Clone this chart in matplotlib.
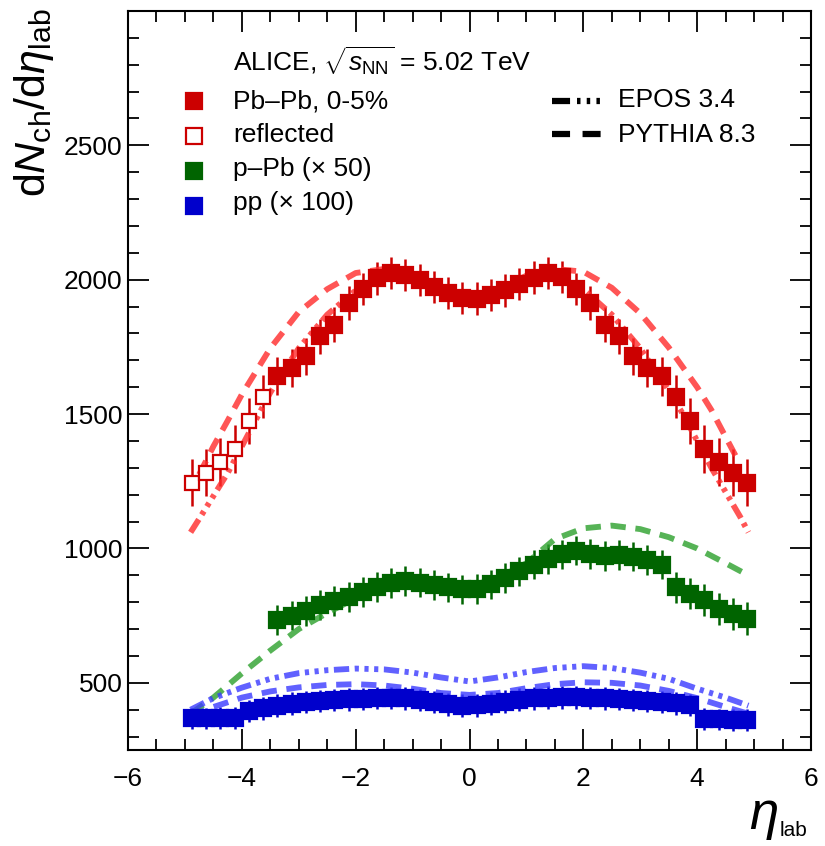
import numpy as np
import matplotlib.pyplot as plt
from matplotlib.lines import Line2D
from matplotlib.ticker import MultipleLocator

plt.rcParams['font.family'] = ['Liberation Sans', 'DejaVu Sans']
plt.rcParams['mathtext.fontset'] = 'custom'
plt.rcParams['mathtext.rm'] = 'Liberation Sans'
plt.rcParams['mathtext.it'] = 'Liberation Sans:italic'
plt.rcParams['mathtext.bf'] = 'Liberation Sans:bold'
plt.rcParams['lines.scale_dashes'] = False

# ---- data ----
# Pb-Pb 0-5%, bin centres -3.375 .. 4.875
pbpb_eta = np.arange(-3.375, 5.0, 0.25)
pbpb = [1641, 1672, 1715, 1789, 1833, 1913, 1965, 2005, 2025, 2018, 1998, 1972,
        1950, 1932, 1930, 1942, 1960, 1985, 2008, 2025, 2010, 1965, 1913, 1833,
        1789, 1715, 1672, 1641, 1564, 1474, 1371, 1322, 1282, 1245]
pbpb_err = [70, 70, 68, 66, 64, 62, 60, 60, 60, 60, 60, 60, 60, 60, 60, 60, 60,
            60, 60, 60, 60, 60, 62, 64, 66, 68, 70, 72, 80, 85, 90, 90, 88, 87]

# reflected Pb-Pb points
refl_eta = [-4.875, -4.625, -4.375, -4.125, -3.875, -3.625]
refl = [1245, 1282, 1322, 1369, 1474, 1564]
refl_err = [87, 88, 90, 90, 85, 80]

# p-Pb (x 50), same binning as Pb-Pb
ppb_eta = np.arange(-3.375, 5.0, 0.25)
ppb = [733, 750, 768, 790, 805, 820, 838, 856, 872, 878, 873, 864, 855, 848,
       850, 866, 890, 915, 940, 960, 978, 992, 980, 972, 976, 970, 958, 940,
       856, 832, 807, 776, 757, 739]
ppb_err = [55, 55, 55, 55, 55, 55, 55, 55, 55, 55, 55, 55, 55, 55, 55, 55, 55,
           55, 55, 55, 55, 55, 55, 55, 55, 55, 55, 55, 58, 58, 60, 60, 60, 60]

# pp (x 100), bin centres -4.875 .. 4.875
pp_eta = np.arange(-4.875, 5.0, 0.25)
pp = [368, 368, 369, 370, 395, 405, 415, 422, 428, 432, 436, 438, 440, 443,
      444, 442, 436, 428, 420, 415, 416, 422, 430, 437, 442, 445, 446, 446,
      444, 442, 440, 436, 432, 428, 424, 418, 366, 364, 362, 362]
pp_err = [40, 40, 40, 40, 42, 42, 42, 42, 42, 42, 42, 42, 42, 42, 42, 42, 42,
          42, 42, 42, 42, 42, 42, 42, 42, 42, 42, 42, 42, 42, 42, 42, 42, 42,
          42, 42, 40, 40, 40, 40]

# models
epos_pbpb_eta = [-4.9, -4.75, -4.5, -4.25, -4.0, -3.75, -3.5, -3.25, -3.0, -2.5,
                 -2.0, -1.5, -1.0, -0.5, 0, 0.5, 1.0, 1.5, 2.0, 2.5, 3.0, 3.25,
                 3.5, 3.75, 4.0, 4.25, 4.5, 4.75, 4.9]
epos_pbpb = [1060, 1110, 1195, 1280, 1380, 1480, 1580, 1665, 1745, 1870, 1960,
             2010, 2005, 1960, 1935, 1960, 2005, 2015, 1965, 1870, 1745, 1665,
             1590, 1500, 1400, 1300, 1210, 1120, 1060]
pyth_pbpb_eta = [-4.75, -4.5, -4.25, -4.0, -3.5, -3.0, -2.5, -2.0, -1.5, -1.0,
                 -0.5, 0, 0.5, 1.0, 1.5, 2.0, 2.5, 3.0, 3.5, 4.0, 4.25, 4.5, 4.75]
pyth_pbpb = [1275, 1380, 1475, 1573, 1745, 1880, 1965, 2025, 2040, 2015, 1965,
             1940, 1965, 2015, 2040, 2030, 1970, 1875, 1748, 1600, 1515, 1415, 1315]

model_eta = [-4.9, -4.5, -4.0, -3.5, -3.0, -2.5, -2.0, -1.5, -1.0, -0.5, 0,
             0.5, 1.0, 1.5, 2.0, 2.5, 3.0, 3.5, 4.0, 4.5, 4.9]
pyth_ppb = [385, 445, 535, 620, 700, 760, 815, 855, 868, 862, 860, 890, 945,
            1035, 1075, 1085, 1072, 1042, 1000, 945, 900]
epos_pp = [400, 443, 482, 515, 536, 547, 553, 550, 538, 520, 505, 520, 540,
           555, 562, 555, 538, 515, 478, 445, 415]
pyth_pp = [375, 410, 445, 468, 483, 492, 495, 490, 478, 462, 455, 462, 480,
           495, 502, 500, 490, 470, 443, 410, 385]

# ---- styles ----
red, green, blue = '#cc0000', '#006400', '#0000cc'
red_m, green_m, blue_m = '#ff2a2a', '#2ca02c', '#3a3aff'
dashed = (0, (11, 7))
epos_ls = (0, (11, 4, 3, 4, 3, 4, 3, 4))

W, H = 825, 846
fig = plt.figure(figsize=(W / 100, H / 100), dpi=100)
ax = fig.add_axes([128 / W, 96 / H, 683 / W, 739 / H])

ebkw = dict(fmt='s', elinewidth=1.8, capsize=0, ms=11.5, mew=1.6)
ax.errorbar(pp_eta, pp, yerr=pp_err, color=blue, **ebkw)
ax.errorbar(ppb_eta, ppb, yerr=ppb_err, color=green, **ebkw)
ax.errorbar(pbpb_eta, pbpb, yerr=pbpb_err, color=red, **ebkw)
ax.errorbar(refl_eta, refl, yerr=refl_err, color=red, mfc='white', mec=red,
            fmt='s', elinewidth=1.8, capsize=0, ms=10.5, mew=1.6)

lkw = dict(lw=4.2, alpha=0.8, dash_capstyle='butt')
ax.plot(epos_pbpb_eta, epos_pbpb, color=red_m, ls=epos_ls, **lkw)
ax.plot(pyth_pbpb_eta, pyth_pbpb, color=red_m, ls=dashed, **lkw)
ax.plot(model_eta, pyth_ppb, color=green_m, ls=dashed, **lkw)
ax.plot(model_eta, epos_pp, color=blue_m, ls=epos_ls, **lkw)
ax.plot(model_eta, pyth_pp, color=blue_m, ls=dashed, **lkw)

ax.set_xlim(-6, 6)
ax.set_ylim(250, 3000)
ax.xaxis.set_major_locator(MultipleLocator(2))
ax.xaxis.set_minor_locator(MultipleLocator(0.5))
ax.yaxis.set_major_locator(MultipleLocator(500))
ax.yaxis.set_minor_locator(MultipleLocator(100))
ax.set_yticks([500, 1000, 1500, 2000, 2500])
ax.tick_params(which='both', direction='in', top=True, right=True, width=1.3,
               labelsize=19)
ax.tick_params(which='major', length=15)
ax.tick_params(which='minor', length=8)
ax.tick_params(axis='x', which='major', pad=12)
ax.tick_params(axis='y', which='major', pad=4)
for s in ax.spines.values():
    s.set_linewidth(1.5)


def ac(px, py):
    # figure pixel -> axes fraction
    return (px - 128) / 683, (750 - py) / 739


# legend (left)
ax.text(*ac(233, 72), r'ALICE, $\sqrt{s_{\rm NN}}$ = 5.02 TeV', transform=ax.transAxes,
        fontsize=19, va='baseline', ha='left')
leg_rows = [('Pb\u2013Pb, 0-5%', red, red, 101, 108),
            ('reflected', 'white', red, 136, 142),
            ('p\u2013Pb (\u00d7 50)', green, green, 171, 176),
            ('pp (\u00d7 100)', blue, blue, 206, 210)]
for label, fc, ec, my, by in leg_rows:
    ax.add_line(Line2D([ac(194, my)[0]], [ac(194, my)[1]], marker='s', ms=12,
                       mfc=fc, mec=ec, mew=1.6, ls='none', transform=ax.transAxes))
    ax.text(*ac(233, by), label, transform=ax.transAxes, fontsize=19,
            va='baseline', ha='left')

# legend (right)
for label, ls, my, by in [('EPOS 3.4', (0, (13, 5, 2.5, 4.5, 2.5, 4.5, 2.5, 10)), 101, 107),
                          ('PYTHIA 8.3', (0, (13, 9)), 134, 142)]:
    x0, y0 = ac(552, my)
    x1, _ = ac(603, my)
    ax.add_line(Line2D([x0, x1], [y0, y0], color='black', lw=4.5, ls=ls,
                       dash_capstyle='butt', transform=ax.transAxes))
    ax.text(*ac(618, by), label, transform=ax.transAxes, fontsize=19,
            va='baseline', ha='left')

# axis titles
fig.text(34 / W, 1 - 8 / H, r'd$\mathit{N}_{\rm ch}$/d$\mathit{\eta}_{\rm lab}$',
         rotation=90, ha='center', va='top', fontsize=31)
fig.text(749 / W, 1 - 829 / H, r'$\mathit{\eta}$', fontsize=38, ha='left',
         va='baseline')
fig.text(780 / W, 1 - 836 / H, 'lab', fontsize=15, ha='left', va='baseline')

fig.savefig('out.png', dpi=100)
